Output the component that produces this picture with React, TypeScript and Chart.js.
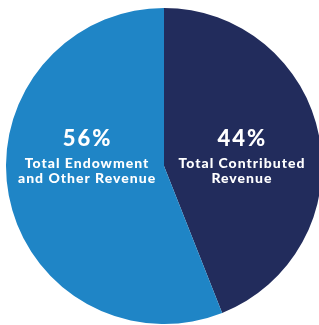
import React, { useEffect, useRef } from "react";
import { Chart, registerables } from "chart.js";

Chart.register(...registerables);

const categories = ["Total Contributed Revenue", "Total Endowment and Other Revenue"];
const values = [44, 56];
const percentLabels = ["44%", "56%"];
const labelLines = [["Total Contributed", "Revenue"], ["Total Endowment", "and Other Revenue"]];
const colors = ["#222C5C", "#1F85C6"];

const labelPlugin = {
  id: "sliceLabels",
  afterDatasetsDraw(chart: any) {
    const ctx = chart.ctx;
    const meta = chart.getDatasetMeta(0);
    meta.data.forEach((arc: any, i: number) => {
      const r = arc.outerRadius;
      const mid = (arc.startAngle + arc.endAngle) / 2;
      const side = Math.cos(mid) >= 0 ? 1 : -1;
      const x = arc.x + side * r * 0.49;
      const y = arc.y;
      ctx.save();
      ctx.fillStyle = "#ffffff";
      ctx.textAlign = "center";
      ctx.textBaseline = "alphabetic";
      ctx.font = "900 22px Lato";
      (ctx as any).letterSpacing = "2px";
      ctx.fillText(percentLabels[i], x + 1, y - 20);
      ctx.font = "900 14px Lato";
      (ctx as any).letterSpacing = "1px";
      labelLines[i].forEach((line, j) => {
        ctx.fillText(line, x + 0.5, y + 2 + j * 14.5);
      });
      ctx.restore();
    });
  },
};

export default function App() {
  const ref = useRef<HTMLCanvasElement>(null);
  useEffect(() => {
    if (!ref.current) return;
    const chart = new Chart(ref.current, {
      type: "pie",
      data: {
        labels: categories,
        datasets: [
          {
            data: values,
            backgroundColor: colors,
            borderWidth: 0,
          },
        ],
      },
      options: {
        responsive: false,
        animation: false,
        devicePixelRatio: 1,
        layout: { padding: 0 },
        plugins: {
          legend: { display: false },
          tooltip: { enabled: false },
        },
      },
      plugins: [labelPlugin],
    });
    return () => chart.destroy();
  }, []);
  return (
    <div
      style={{
        position: "fixed",
        left: 0,
        top: 0,
        width: 319,
        height: 325,
        overflow: "hidden",
        background: "#ffffff",
      }}
    >
      <canvas
        ref={ref}
        width={316}
        height={316}
        style={{ position: "absolute", left: 6, top: 8, width: 316, height: 316 }}
      />
    </div>
  );
}
